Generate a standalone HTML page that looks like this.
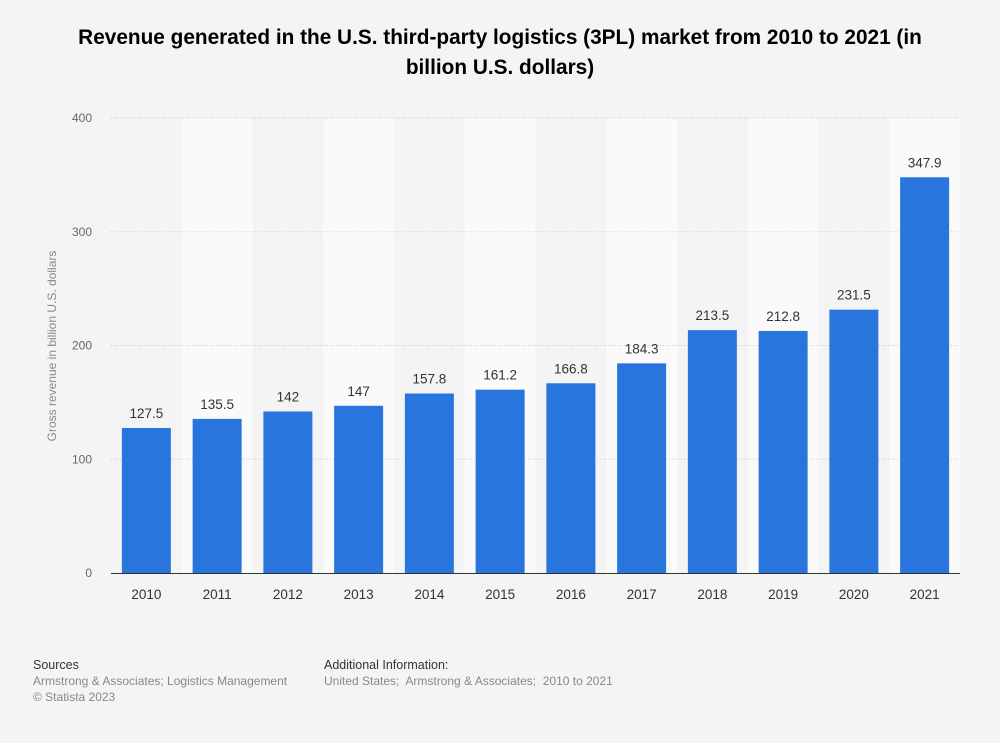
<!DOCTYPE html>
<html><head><meta charset="utf-8">
<style>
body{margin:0;background:#f4f4f4;font-family:"Liberation Sans",Arial,sans-serif;}
#wrap{position:relative;width:1000px;height:743px;overflow:hidden;background:#f4f4f4;}
#title{position:absolute;left:70px;top:23px;width:860px;text-align:center;font-weight:bold;font-size:20.8px;line-height:30px;color:#000;}
.foot{position:absolute;font-size:12px;line-height:16px;color:#888;}
.foot b{font-weight:normal;color:#333;font-size:12.5px;}
</style></head><body>
<div id="wrap">
<div id="title">Revenue generated in the U.S. third-party logistics (3PL) market from 2010 to 2021 (in billion U.S. dollars)</div>
<svg id="chart" width="1000" height="743" style="position:absolute;left:0;top:0"></svg>
<div class="foot" style="left:33px;top:657px"><b>Sources</b><br>Armstrong &amp; Associates; Logistics Management<br>© Statista 2023</div>
<div class="foot" style="left:324px;top:657px"><b>Additional Information:</b><br>United States;&nbsp; Armstrong &amp; Associates;&nbsp; 2010 to 2021</div>
</div>
<script>
const categories=["2010","2011","2012","2013","2014","2015","2016","2017","2018","2019","2020","2021"];
const values=[127.5,135.5,142,147,157.8,161.2,166.8,184.3,213.5,212.8,231.5,347.9];
const labels=["127.5","135.5","142","147","157.8","161.2","166.8","184.3","213.5","212.8","231.5","347.9"];
const yTicks=[0,100,200,300,400];
const NS="http://www.w3.org/2000/svg";
const svg=document.getElementById('chart');
const X0=111,X1=960,Y0=573,Y1=118,YMAX=400;
const band=(X1-X0)/categories.length;
const y=v=>Y0-(v/YMAX)*(Y0-Y1);
const x=i=>X0+i*band;
function mk(t,a){const e=document.createElementNS(NS,t);for(const k in a)e.setAttribute(k,a[k]);svg.appendChild(e);return e;}
categories.forEach((c,i)=>{if(i%2==1){const r=mk('rect',{x:x(i),y:Y1,width:band,height:Y0-Y1,fill:'#fafafa'});

}});
yTicks.forEach(t=>{
 if(t>0){const l=mk('line',{x1:X0,x2:X1,y1:y(t),y2:y(t),stroke:'#c8c8c8','stroke-dasharray':'1,2'});
 
 }
 const tx=mk('text',{x:92,y:y(t)+4,'text-anchor':'end','font-size':12,fill:'#666'});tx.textContent=t;
 
 
});
categories.forEach((c,i)=>{
 const bw=49,cx=x(i)+band/2;
 const r=mk('rect',{x:cx-bw/2,y:y(values[i]),width:bw,height:Y0-y(values[i]),fill:'#2876dd'});
 
 
 const v=mk('text',{x:cx,y:y(values[i])-10,'text-anchor':'middle','font-size':13.5,fill:'#333'});v.textContent=labels[i];
 
 
 const t=mk('text',{x:cx,y:599,'text-anchor':'middle','font-size':13.5,fill:'#333'});t.textContent=c;
 
 
});
const ax=mk('line',{x1:X0,x2:X1,y1:Y0+0.5,y2:Y0+0.5,stroke:'#333','stroke-width':1});


const yt=mk('text',{x:0,y:0,'text-anchor':'middle','font-size':12,fill:'#888',transform:'translate(56,346) rotate(-90)'});
yt.textContent='Gross revenue in billion U.S. dollars';


</script>
</body></html>
